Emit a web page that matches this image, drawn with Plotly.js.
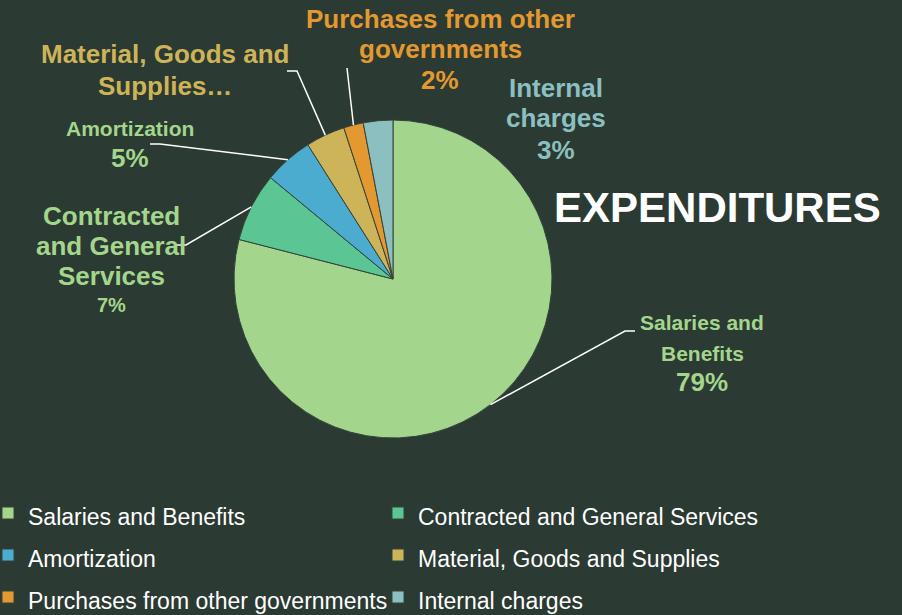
<!DOCTYPE html>
<html>
<head>
<meta charset="utf-8">
<script src="https://cdn.plot.ly/plotly-3.0.1.min.js"></script>
<style>
html, body { margin: 0; padding: 0; background: #2b3a32; }
#chart { width: 902px; height: 615px; }
</style>
</head>
<body>
<div id="chart"></div>
<script>
// data
const categories = ["Salaries and Benefits", "Contracted and General Services", "Amortization",
                    "Material, Goods and Supplies", "Purchases from other governments", "Internal charges"];
const values = [79, 7, 5, 4, 2, 3];
const sliceLabelLines = [
    ["Salaries and", "Benefits"],
    ["Contracted", "and General", "Services"],
    ["Amortization"],
    ["Material, Goods and", "Supplies…"],
    ["Purchases from other", "governments"],
    ["Internal", "charges"]
];
const showPercent = [true, true, true, false, true, true];
const chartTitle = "EXPENDITURES";

// styling
const colors = ["#a3d68c", "#5bc594", "#4bacd0", "#cdb458", "#e3992f", "#8cc0c0"];
const labelColors = ["#a3d68c", "#a3d68c", "#a3d68c", "#cdb458", "#e3992f", "#8cc0c0"];
const BG = "#2b3a32";
const W = 902, H = 615;
const CX = 393, CY = 279, R = 159;
const FONT = "Liberation Sans, Arial, sans-serif";

// label placement: centre x, line y's, font sizes, leader elbow points (px)
const labelPlace = [
    { x: 702, ys: [323, 353, 382], sizes: [21, 21, 26], elbow: [[625, 331], [635, 331]] },
    { x: 111, ys: [216, 246, 276, 305], sizes: [26, 26, 26, 20], elbow: [[186, 245], [174, 245]] },
    { x: 130, ys: [128, 158], sizes: [21, 26], elbow: [[160, 144], [150, 144]] },
    { x: 165, ys: [54, 86], sizes: [26, 26], elbow: [[297, 71], [287, 71]] },
    { x: 440, ys: [19, 49, 80], sizes: [26, 26, 26], elbow: [[347, 68]] },
    { x: 556, ys: [88, 118, 150], sizes: [26, 26, 26], elbow: null }
];

const px = x => x / W;
const py = y => 1 - y / H;
const total = values.reduce((a, b) => a + b, 0);

const annotations = [];
const shapes = [];
let cum = 0;
values.forEach((v, i) => {
    const mid = (cum + v / 2) / total;
    cum += v;
    const pct = Math.round(v / total * 100) + "%";
    const lines = showPercent[i] ? sliceLabelLines[i].concat([pct]) : sliceLabelLines[i];
    const pl = labelPlace[i];
    lines.forEach((t, k) => {
        annotations.push({
            xref: "paper", yref: "paper", x: px(pl.x), y: py(pl.ys[k]),
            xanchor: "center", yanchor: "middle", showarrow: false,
            text: "<b>" + t + "</b>",
            font: { family: FONT, size: pl.sizes[k], color: labelColors[i] }
        });
    });
    if (pl.elbow) {
        const a = 2 * Math.PI * mid;
        const ex = CX + R * Math.sin(a), ey = CY - R * Math.cos(a);
        let path = `M ${px(ex)} ${py(ey)}`;
        pl.elbow.forEach(p => { path += ` L ${px(p[0])} ${py(p[1])}`; });
        shapes.push({ type: "path", xref: "paper", yref: "paper", path: path,
                      line: { color: "#ffffff", width: 1.5 } });
    }
});

annotations.push({
    xref: "paper", yref: "paper", x: px(717), y: py(207),
    xanchor: "center", yanchor: "middle", showarrow: false,
    text: "<b>" + chartTitle + "</b>",
    font: { family: FONT, size: 42, color: "#ffffff" }
});

// legend labels: smaller span inside a larger legend font to get taller rows
const legendLabels = categories.map(c => `<span style="font-size:23px">${c}</span>`);

Plotly.newPlot("chart", [{
    type: "pie",
    labels: legendLabels,
    values: values,
    sort: false,
    direction: "clockwise",
    rotation: 0,
    textinfo: "none",
    hoverinfo: "label+percent",
    marker: { colors: colors, line: { color: "#33443a", width: 1 } },
    domain: { x: [px(CX - R), px(CX + R)], y: [py(CY + R), py(CY - R)] }
}], {
    width: W, height: H,
    paper_bgcolor: BG, plot_bgcolor: BG,
    margin: { t: 0, b: 0, l: 0, r: 0, autoexpand: false },
    showlegend: true,
    legend: {
        orientation: "h", x: 0, xanchor: "left", y: py(487), yanchor: "top",
        indentation: -12,
        font: { family: FONT, size: 30, color: "#ffffff" },
        entrywidth: 357, entrywidthmode: "pixels",
        bgcolor: "rgba(0,0,0,0)", itemclick: false
    },
    annotations: annotations,
    shapes: shapes
}, { displayModeBar: false, staticPlot: true });
</script>
</body>
</html>
